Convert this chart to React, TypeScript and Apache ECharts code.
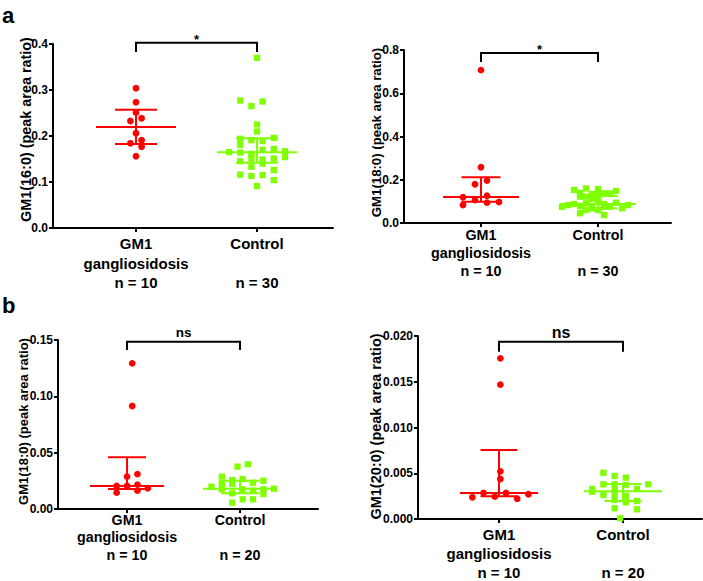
import React, { useEffect, useRef } from "react";
import * as echarts from "echarts";

// ---------- data ----------
const groupNames = ["GM1", "Control"];
const groupSubNames = ["gangliosidosis", ""];
const nLabelsA = ["n = 10", "n = 30"];
const nLabelsB = ["n = 10", "n = 20"];
const yNames = [
  "GM1(16:0) (peak area ratio)",
  "GM1(18:0) (peak area ratio)",
  "GM1(18:0) (peak area ratio)",
  "GM1(20:0) (peak area ratio)",
];
const sigLabels = ["*", "*", "ns", "ns"];
const yMaxes = [0.4, 0.8, 0.15, 0.02];
const yIntervals = [0.1, 0.2, 0.05, 0.005];
const yDecimals = [1, 1, 2, 3];

// panel a (left): GM1(16:0)
const a1GM1Values = [0.3037, 0.2733, 0.2507, 0.2326, 0.2385, 0.2059, 0.1841, 0.1907, 0.1767, 0.1559];
const a1GM1Slots = [0, 0, 0, -1, 1, 0, -1, 1, 1, 0];
const a1CtrlValues = [
  0.37, 0.277, 0.265, 0.275, 0.225, 0.21, 0.194, 0.191, 0.189, 0.196,
  0.181, 0.172, 0.17, 0.165, 0.164, 0.161, 0.167, 0.154, 0.151, 0.149,
  0.151, 0.145, 0.133, 0.126, 0.116, 0.113, 0.115, 0.104, 0.091, 0.14,
];
const a1CtrlSlots = [0, -3, -1, 1, 0, 0, -3, -1, 1, 3, -3, 3, 1, -5, -3, -1, 5, 5, 3, 1, -1, -3, -1, 3, -3, -1, 1, 3, 0, 1];
const a1Median = [0.2196, 0.1645];
const a1Q1 = [0.1826, 0.142];
const a1Q3 = [0.2572, 0.195];

// panel a (right): GM1(18:0)
const a2GM1Values = [0.707, 0.258, 0.196, 0.179, 0.126, 0.119, 0.106, 0.094, 0.097, 0.083];
const a2GM1Slots = [0, 0, 1, -1, 1, -3, -1, 1, 3, -3];
const a2CtrlValues = [
  0.153, 0.16, 0.157, 0.14, 0.134, 0.137, 0.137, 0.148, 0.122, 0.122,
  0.129, 0.111, 0.088, 0.091, 0.103, 0.088, 0.094, 0.075, 0.083, 0.079,
  0.075, 0.075, 0.075, 0.083, 0.06, 0.06, 0.068, 0.045, 0.037, 0.068,
];
const a2CtrlSlots = [-4, -2, 0, -3, -1, 1, 2, 3, -3, -2, 0, -1, -4, -2, 0, 1, 3, -6, -5, -3, -1, 1, 2, 5, -2, 0, 4, -3, 1, -1];
const a2Median = [0.12, 0.088];
const a2Q1 = [0.0985, 0.068];
const a2Q3 = [0.211, 0.125];

// panel b (left): GM1(18:0)
const b1GM1Values = [0.1293, 0.0914, 0.0287, 0.031, 0.0204, 0.0204, 0.0216, 0.0184, 0.0145, 0.0163];
const b1GM1Slots = [1, 1, 0, 2, -2, 0, 2, 4, -2, 2];
const b1CtrlValues = [
  0.0376, 0.0397, 0.0287, 0.0257, 0.0266, 0.0251, 0.0228, 0.0222, 0.0233, 0.0198,
  0.0175, 0.0175, 0.0163, 0.0175, 0.018, 0.0139, 0.0133, 0.0086, 0.0086, 0.0056,
];
const b1CtrlSlots = [-0.5, 1.5, -3.5, -1.5, 0.5, 4.5, -3.5, -1.5, 2.5, -5.5, -3.5, 0.5, 2.5, 4.5, 6.5, -1.5, 4.5, 0.5, 2.5, -1.5];
const b1Median = [0.0204, 0.018];
const b1Q1 = [0.0178, 0.0139];
const b1Q3 = [0.0459, 0.0251];

// panel b (right): GM1(20:0)
const b2GM1Values = [0.01756, 0.01468, 0.00521, 0.00437, 0.00284, 0.00284, 0.00237, 0.00244, 0.00222, 0.0027];
const b2GM1Slots = [0.25, 0.25, 0.25, 0.25, -2.75, 1.25, -4.75, -0.75, 3.25, 5.25];
const b2CtrlValues = [
  0.00506, 0.0047, 0.00452, 0.00379, 0.00379, 0.00372, 0.00379, 0.00328, 0.00317, 0.00328,
  0.00298, 0.00262, 0.0027, 0.00251, 0.00197, 0.00183, 0.00117, 0.00106, 0.00008, 0.00208,
];
const b2CtrlSlots = [-3.5, -1.5, 0.5, -3.5, -1.5, 0.5, 4.5, -5.5, -1.5, 2.5, -5.5, -3.5, -1.5, 0.5, 2.5, 0.5, -1.5, 2.5, -0.5, -1.5];
const b2Median = [0.00284, 0.00303];
const b2Q1 = [0.0025, 0.00197];
const b2Q3 = [0.00754, 0.00383];

const bracketTops = [0.4028, 0.786, 0.1485, 0.01938];
const bracketDrops = [0.3826, 0.7445, 0.1411, 0.01828];

// ---------- layout / style ----------
const FONT = "'Liberation Sans', Arial, Helvetica, sans-serif";
const RED = "#FF0000";
const GREEN = "#7FFF00";

const panels = [
  {
    grid: { left: 53, top: 44, width: 280, height: 184 },
    xMin: 0.314, xMax: 2.628, step: 5.6,
    labelFont: 15, labelLH: 19.5, labelMargin: 6,
    nameFont: 14.4, nameGap: 20.5, namePad: 13,
    sigFont: 13, sigDy: -3,
    medHalf: 40, capHalf: 21,
    gm1: a1GM1Values, gm1Slots: a1GM1Slots, ctrl: a1CtrlValues, ctrlSlots: a1CtrlSlots,
    med: a1Median, q1: a1Q1, q3: a1Q3, n: nLabelsA,
  },
  {
    grid: { left: 404, top: 50, width: 267, height: 173 },
    xMin: 0.342, xMax: 2.624, step: 6,
    labelFont: 14.3, labelLH: 18, labelMargin: 3,
    nameFont: 13.2, nameGap: 21.5, namePad: 8,
    sigFont: 13, sigDy: -3.3,
    medHalf: 38, capHalf: 19.5,
    gm1: a2GM1Values, gm1Slots: a2GM1Slots, ctrl: a2CtrlValues, ctrlSlots: a2CtrlSlots,
    med: a2Median, q1: a2Q1, q3: a2Q3, n: nLabelsA,
  },
  {
    grid: { left: 58, top: 340, width: 260, height: 169 },
    xMin: 0.389, xMax: 2.69, step: 5.2,
    labelFont: 14.3, labelLH: 17.5, labelMargin: 2,
    nameFont: 13, nameGap: 28, namePad: 6,
    sigFont: 13.5, sigDy: -9.3,
    medHalf: 37, capHalf: 19,
    gm1: b1GM1Values, gm1Slots: b1GM1Slots, ctrl: b1CtrlValues, ctrlSlots: b1CtrlSlots,
    med: b1Median, q1: b1Q1, q3: b1Q3, n: nLabelsB,
  },
  {
    grid: { left: 418, top: 336, width: 284, height: 183 },
    xMin: 0.347, xMax: 2.637, step: 5.6,
    labelFont: 15, labelLH: 19, labelMargin: 6,
    nameFont: 14.5, nameGap: 34.5, namePad: 2,
    sigFont: 16, sigDy: -8.9,
    medHalf: 39, capHalf: 18.5,
    gm1: b2GM1Values, gm1Slots: b2GM1Slots, ctrl: b2CtrlValues, ctrlSlots: b2CtrlSlots,
    med: b2Median, q1: b2Q1, q3: b2Q3, n: nLabelsB,
  },
];

function buildOption() {
  const grids: any[] = [];
  const xAxes: any[] = [];
  const yAxes: any[] = [];
  const series: any[] = [];

  panels.forEach((p, i) => {
    grids.push({ ...p.grid, containLabel: false, outerBoundsMode: "none" });
    xAxes.push({
      type: "value",
      gridIndex: i,
      min: p.xMin,
      max: p.xMax,
      splitLine: { show: false },
      axisLine: { show: true, onZero: false, lineStyle: { color: "#000", width: 2 } },
      axisTick: { show: true, customValues: [1, 2], length: 4, lineStyle: { color: "#000", width: 2 } },
      axisLabel: {
        show: true,
        customValues: [1, 2],
        margin: p.labelMargin,
        fontSize: p.labelFont,
        lineHeight: p.labelLH,
        fontWeight: "bold",
        fontFamily: FONT,
        color: "#000",
        formatter: (v: number) => {
          const k = Math.round(v) - 1;
          return `${groupNames[k]}\n${groupSubNames[k]}\n${p.n[k]}`;
        },
      },
    });
    yAxes.push({
      type: "value",
      gridIndex: i,
      min: 0,
      max: yMaxes[i],
      interval: yIntervals[i],
      name: yNames[i],
      nameLocation: "middle",
      nameGap: p.nameGap,
      nameMoveOverlap: false,
      nameTextStyle: {
        fontSize: p.nameFont,
        fontWeight: "bold",
        fontFamily: FONT,
        color: "#000",
        padding: [0, 0, 0, p.namePad],
      },
      splitLine: { show: false },
      axisLine: { show: true, lineStyle: { color: "#000", width: 2 } },
      axisTick: { show: true, length: 4, lineStyle: { color: "#000", width: 2 } },
      axisLabel: {
        margin: 5,
        fontSize: 12,
        fontWeight: "bold",
        fontFamily: FONT,
        color: "#000",
        formatter: (v: number) => v.toFixed(yDecimals[i]),
      },
    });

    series.push({
      type: "scatter",
      xAxisIndex: i,
      yAxisIndex: i,
      symbol: "circle",
      symbolSize: 6.8,
      itemStyle: { color: RED, opacity: 1 },
      data: p.gm1.map((v, j) => ({ value: [1, v], symbolOffset: [p.gm1Slots[j] * p.step, 0] })),
      z: 2,
    });
    series.push({
      type: "scatter",
      xAxisIndex: i,
      yAxisIndex: i,
      symbol: "rect",
      symbolSize: 6.3,
      itemStyle: { color: GREEN, opacity: 1 },
      data: p.ctrl.map((v, j) => ({ value: [2, v], symbolOffset: [p.ctrlSlots[j] * p.step, 0] })),
      z: 2,
    });
    series.push({
      type: "custom",
      xAxisIndex: i,
      yAxisIndex: i,
      z: 3,
      encode: { x: 0, y: [1, 2, 3] },
      data: [
        [1, p.med[0], p.q1[0], p.q3[0]],
        [2, p.med[1], p.q1[1], p.q3[1]],
      ],
      renderItem: (params: any, api: any) => {
        const x = api.value(0);
        const pm = api.coord([x, api.value(1)]);
        const p1 = api.coord([x, api.value(2)]);
        const p3 = api.coord([x, api.value(3)]);
        const color = params.dataIndex === 0 ? RED : GREEN;
        const style = { stroke: color, lineWidth: 2, fill: null };
        return {
          type: "group",
          children: [
            { type: "line", shape: { x1: pm[0] - p.medHalf, y1: pm[1], x2: pm[0] + p.medHalf, y2: pm[1] }, style },
            { type: "line", shape: { x1: p1[0] - p.capHalf, y1: p1[1], x2: p1[0] + p.capHalf, y2: p1[1] }, style },
            { type: "line", shape: { x1: p3[0] - p.capHalf, y1: p3[1], x2: p3[0] + p.capHalf, y2: p3[1] }, style },
            { type: "line", shape: { x1: p1[0], y1: p1[1], x2: p3[0], y2: p3[1] }, style },
          ],
        };
      },
    });
    series.push({
      type: "custom",
      xAxisIndex: i,
      yAxisIndex: i,
      z: 4,
      clip: false,
      encode: { x: [0, 1], y: [2, 3] },
      data: [[1, 2, bracketTops[i], bracketDrops[i]]],
      renderItem: (params: any, api: any) => {
        const a = api.coord([api.value(0), api.value(3)]);
        const b = api.coord([api.value(0), api.value(2)]);
        const c = api.coord([api.value(1), api.value(2)]);
        const d = api.coord([api.value(1), api.value(3)]);
        return {
          type: "group",
          children: [
            {
              type: "polyline",
              shape: { points: [a, b, c, d] },
              style: { stroke: "#000", lineWidth: 2, fill: null },
            },
            {
              type: "text",
              x: (b[0] + c[0]) / 2,
              y: b[1] + p.sigDy,
              style: {
                text: sigLabels[i],
                fontSize: p.sigFont,
                fontWeight: "bold",
                fontFamily: FONT,
                fill: "#000",
                align: "center",
                verticalAlign: "middle",
              },
            },
          ],
        };
      },
    });
  });

  return {
    animation: false,
    backgroundColor: "#fff",
    grid: grids,
    xAxis: xAxes,
    yAxis: yAxes,
    series,
    graphic: [
      { type: "text", left: 2, top: 4, style: { text: "a", fontSize: 22, fontWeight: "bold", fontFamily: FONT, fill: "#000" } },
      { type: "text", left: 2, top: 294, style: { text: "b", fontSize: 22, fontWeight: "bold", fontFamily: FONT, fill: "#000" } },
    ],
  };
}

export default function App() {
  const ref = useRef<HTMLDivElement>(null);
  useEffect(() => {
    if (!ref.current) return;
    const chart = echarts.init(ref.current, undefined, { renderer: "svg" });
    chart.setOption(buildOption() as any);
    return () => chart.dispose();
  }, []);
  return (
    <div
      ref={ref}
      style={{ position: "absolute", left: 0, top: 0, width: 703, height: 581, background: "#fff" }}
    />
  );
}
